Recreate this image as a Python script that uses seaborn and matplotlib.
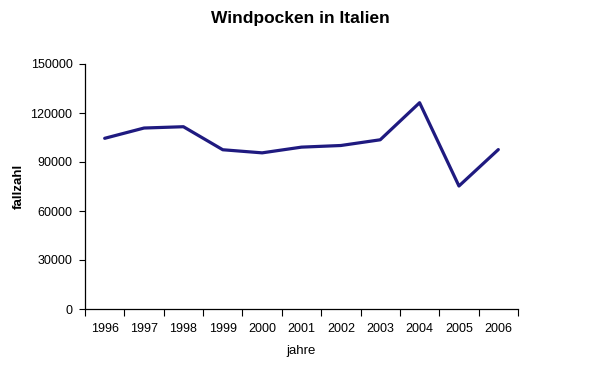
import pandas as pd
import numpy as np
import seaborn as sns
import matplotlib.pyplot as plt
from matplotlib.ticker import MultipleLocator, FixedLocator

# Windpocken-Fallzahlen in Italien
jahre = ["1996", "1997", "1998", "1999", "2000", "2001",
         "2002", "2003", "2004", "2005", "2006"]
fallzahl = [104500, 110800, 111600, 97500, 95600, 99100,
            100100, 103600, 126300, 75300, 97600]

df = pd.DataFrame({"jahre": jahre, "fallzahl": fallzahl})

sns.set_style("white")
plt.rcParams['font.family'] = ['Liberation Sans', 'DejaVu Sans']
plt.rcParams['text.color'] = 'black'
plt.rcParams['axes.labelcolor'] = 'black'
plt.rcParams['xtick.color'] = 'black'
plt.rcParams['ytick.color'] = 'black'

fig = plt.figure(figsize=(6.04, 3.83), dpi=100)
ax = fig.add_axes([85 / 604, 1 - 309 / 383, 433 / 604, 245 / 383])

sns.lineplot(data=df, x="jahre", y="fallzahl", sort=False, ax=ax,
             color="#1f1a80", linewidth=2.3)

ax.set_xlim(-0.5, len(jahre) - 0.5)
ax.set_ylim(0, 150000)
ax.yaxis.set_major_locator(MultipleLocator(30000))

# Excel-Stil: Striche zwischen den Kategorien, Beschriftung in der Mitte
ax.xaxis.set_minor_locator(FixedLocator(np.arange(-0.5, len(jahre), 1.0)))
ax.tick_params(axis="x", which="both", bottom=True)
ax.tick_params(axis="y", which="both", left=True)
ax.tick_params(axis="x", which="major", length=0, pad=10, labelsize=9)
ax.tick_params(axis="x", which="minor", length=5, width=0.8, direction="out")
ax.tick_params(axis="y", which="major", length=4, width=0.8,
               direction="out", pad=5, labelsize=9)

for s in ["top", "right"]:
    ax.spines[s].set_visible(False)
for s in ["left", "bottom"]:
    ax.spines[s].set_color("black")
    ax.spines[s].set_linewidth(0.9)

ax.set_xlabel("jahre", fontsize=9.5, labelpad=7)
ax.set_ylabel("fallzahl", fontsize=9.5, fontweight="bold", labelpad=4)
fig.text(0.497, 0.952, "Windpocken in Italien", ha="center", va="center",
         fontsize=12.5, fontweight="bold")

fig.savefig("out.png", dpi=100)
